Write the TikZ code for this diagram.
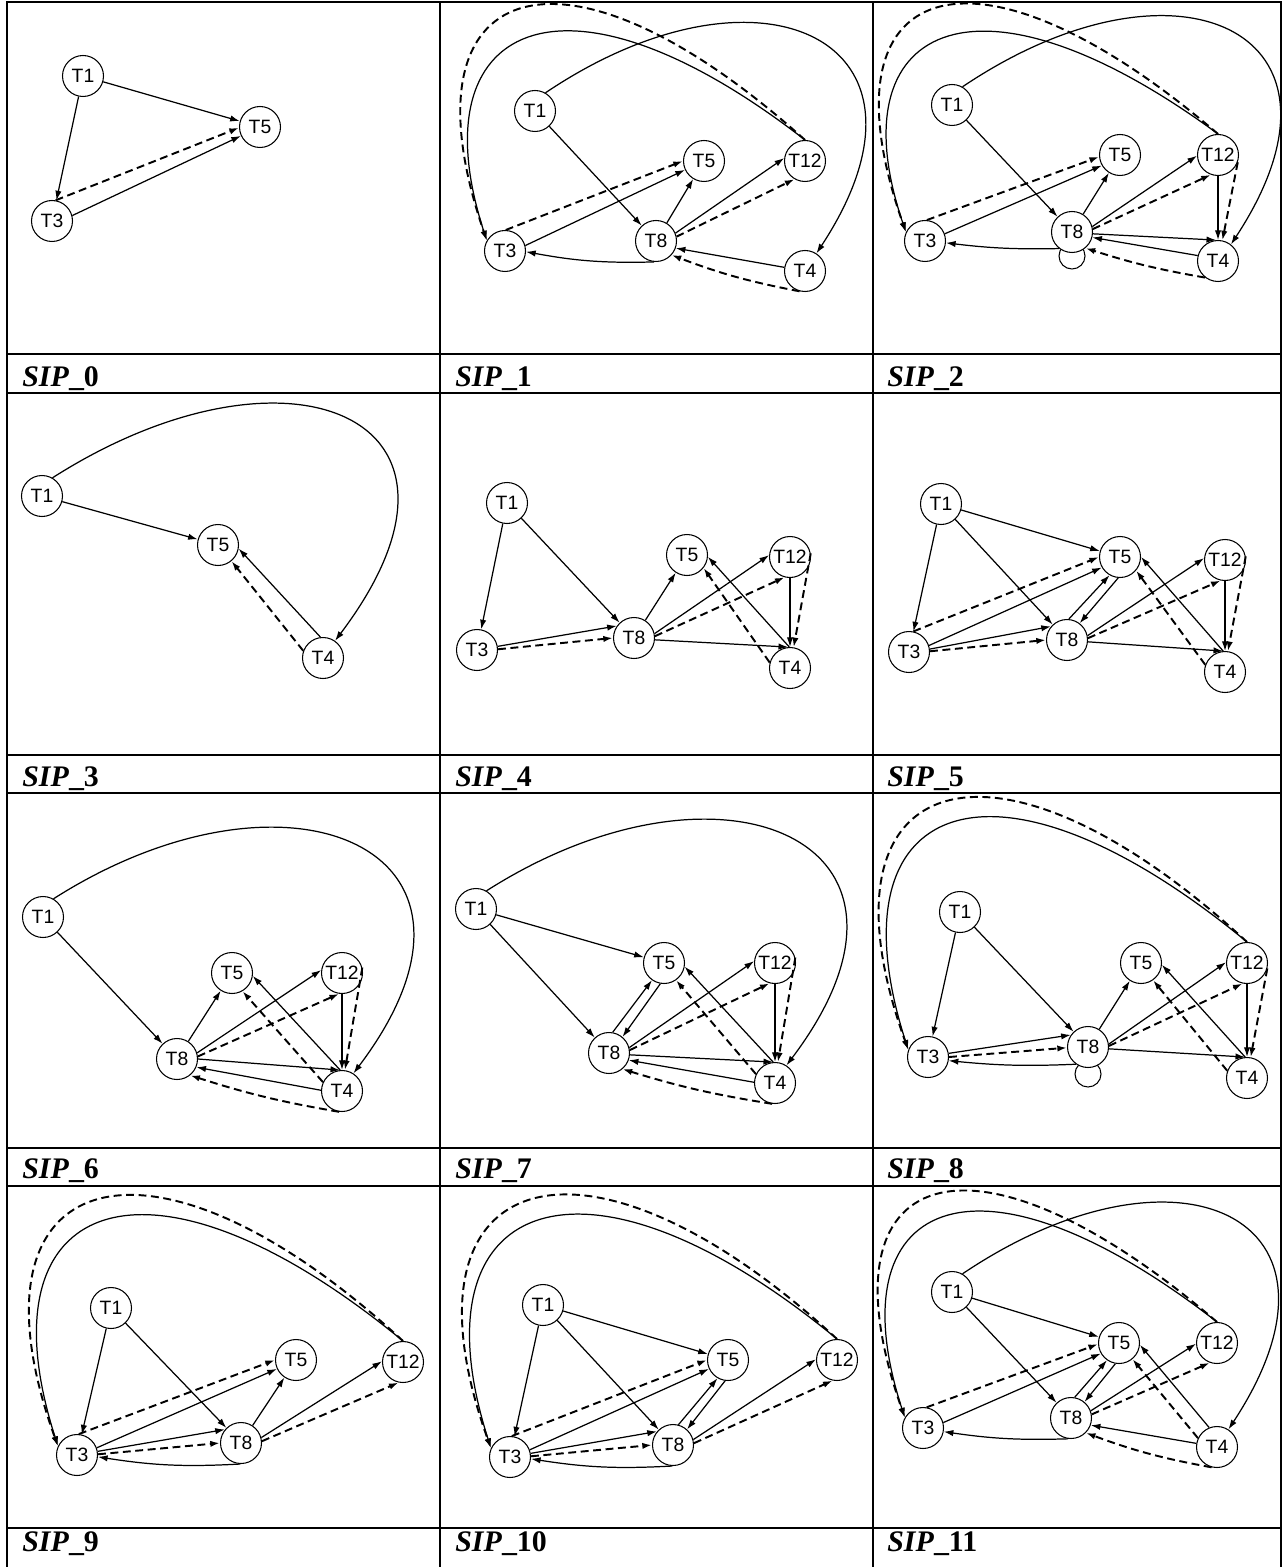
\documentclass[tikz,border=0pt]{standalone}
\usepackage{fontspec}
\setmainfont{Liberation Serif}
\setsansfont{Liberation Sans}
\usetikzlibrary{arrows.meta}

\tikzset{
  task/.style={circle, draw, line width=0.6pt, fill=white, minimum size=0.82cm, inner sep=0pt,
    font=\sffamily\fontsize{11}{12}\selectfont},
  selfloop/.style={circle, draw, line width=0.6pt, minimum size=0.52cm, inner sep=0pt},
  flow/.style={-{Latex[length=5.5pt,width=3.6pt]}, line width=0.7pt},
  dflow/.style={flow, line width=1.1pt, dash pattern=on 4.5pt off 2.6pt},
  siplabel/.style={anchor=base west, inner sep=0pt, font=\bfseries\fontsize{17}{20}\selectfont},
  tableline/.style={line width=1pt}
}

\begin{document}
\begin{tikzpicture}[x=0.02cm, y=-0.02cm]
  \useasboundingbox (0,0) rectangle (1284,1567);

  % table
  \draw[tableline] (7,1600) -- (7,2) -- (1281,2) -- (1281,1600);
  \foreach \xx in {440,873} \draw[tableline] (\xx,2) -- (\xx,1600);
  \foreach \yy in {354,393,755,793,1148,1186,1528} \draw[tableline] (7,\yy) -- (1281,\yy);

  \node[siplabel] (lab0) at (22,387) {\textit{SIP}\_0};
  \node[siplabel] (lab1) at (455,387) {\textit{SIP}\_1};
  \node[siplabel] (lab2) at (887,387) {\textit{SIP}\_2};
  \node[siplabel] (lab3) at (22,786) {\textit{SIP}\_3};
  \node[siplabel] (lab4) at (455,786) {\textit{SIP}\_4};
  \node[siplabel] (lab5) at (887,786) {\textit{SIP}\_5};
  \node[siplabel] (lab6) at (22,1178) {\textit{SIP}\_6};
  \node[siplabel] (lab7) at (455,1178) {\textit{SIP}\_7};
  \node[siplabel] (lab8) at (887,1178) {\textit{SIP}\_8};
  \node[siplabel] (lab9) at (22,1551) {\textit{SIP}\_9};
  \node[siplabel] (lab10) at (455,1551) {\textit{SIP}\_10};
  \node[siplabel] (lab11) at (887,1551) {\textit{SIP}\_11};

  % SIP_0
  \begin{scope}[name prefix=a-]
    \node[task] (T1) at (83,76) {T1};
    \node[task] (T5) at (260,127) {T5};
    \node[task] (T3) at (52,221) {T3};
    \draw[flow] (T1) -- (T5);
    \draw[flow] (T1) -- (T3);
    \draw[dflow] (T3.80) -- (T5.182);
    \draw[flow] (T3.15) -- (T5.205);
  \end{scope}

  % SIP_1
  \begin{scope}[name prefix=b-]
    \node[task] (T1) at (535,111) {T1};
    \node[task] (T5) at (704,161) {T5};
    \node[task] (T12) at (805,161) {T12};
    \node[task] (T8) at (656,241) {T8};
    \node[task] (T3) at (505,251) {T3};
    \node[task] (T4) at (805,271) {T4};
    \draw[flow] (T1) -- (T8);
    \draw[dflow] (T3.88) -- (T5.180);
    \draw[flow] (T3.15) -- (T5.205);
    \draw[flow] (T8) -- (T5);
    \draw[flow] (T8.22) -- (T12.172);
    \draw[dflow] (T8.12) -- (T12.240);
    \draw[flow] (T8.265) to[bend left=6] (T3.358);
    \draw[flow] (T4.170) -- (T8.340);
    \draw[dflow] (T4.255) to[bend left=5] (T8.318);
    \draw[flow] (T12.north) .. controls +(-245,-190) and +(-70,-215) .. (T3.150);
    \draw[dflow] (T12.north) .. controls +(-245,-220) and +(-90,-262) .. (T3.150);
    \draw[flow] (T1.60) .. controls +(215,-145) and +(140,-213) .. (T4.57);
  \end{scope}

  % SIP_2
  \begin{scope}[name prefix=c-]
    \node[selfloop] (L8) at (1072,256) {};
    \node[task] (T1) at (952,105) {T1};
    \node[task] (T5) at (1120,155) {T5};
    \node[task] (T12) at (1218,155) {T12};
    \node[task] (T8) at (1072,232) {T8};
    \node[task] (T3) at (925,241) {T3};
    \node[task] (T4) at (1218,261) {T4};
    \draw[flow] (T1) -- (T8);
    \draw[dflow] (T3.85) -- (T5.185);
    \draw[flow] (T3.20) -- (T5.210);
    \draw[flow] (T8) -- (T5);
    \draw[flow] (T8.15) -- (T12.182);
    \draw[dflow] (T8.8) -- (T12.250);
    \draw[flow] (T8.355) -- (T4.95);
    \draw[flow] (T12.south) -- (T4.north);
    \draw[dflow] (T12.340) -- (T4.78);
    \draw[flow] (T4.165) -- (T8.345);
    \draw[dflow] (T4.232) to[bend left=4] (T8.310);
    \draw[flow] (T8.232) to[bend left=4] (T3.355);
    \draw[flow] (T12.north) .. controls +(-245,-180) and +(-70,-205) .. (T3.155);
    \draw[dflow] (T12.north) .. controls +(-245,-210) and +(-90,-255) .. (T3.155);
    \draw[flow] (T1.60) .. controls +(215,-145) and +(140,-213) .. (T4.52);
  \end{scope}

  % SIP_3
  \begin{scope}[name prefix=d-]
    \node[task] (T1) at (42,496) {T1};
    \node[task] (T5) at (218,545) {T5};
    \node[task] (T4) at (323,658) {T4};
    \draw[flow] (T1) -- (T5);
    \draw[flow] (T4.97) -- (T5.350);
    \draw[dflow] (T4.160) -- (T5.310);
    \draw[flow] (T1.60) .. controls +(235,-150) and +(170,-225) .. (T4.55);
  \end{scope}

  % SIP_4
  \begin{scope}[name prefix=e-]
    \node[task] (T1) at (507,503) {T1};
    \node[task] (T5) at (687,555) {T5};
    \node[task] (T12) at (790,557) {T12};
    \node[task] (T8) at (634,638) {T8};
    \node[task] (T3) at (477,650) {T3};
    \node[task] (T4) at (790,668) {T4};
    \draw[flow] (T1) -- (T3);
    \draw[flow] (T1) -- (T8);
    \draw[flow] (T3.10) -- (T8.145);
    \draw[dflow] (T3.2) -- (T8.180);
    \draw[flow] (T8) -- (T5);
    \draw[flow] (T8.12) -- (T12.175);
    \draw[dflow] (T8.5) -- (T12.255);
    \draw[flow] (T8.355) -- (T4.95);
    \draw[flow] (T12.south) -- (T4.north);
    \draw[dflow] (T12.10) -- (T4.80);
    \draw[flow] (T4.92) -- (T5.355);
    \draw[dflow] (T4.165) -- (T5.322);
  \end{scope}

  % SIP_5
  \begin{scope}[name prefix=f-]
    \node[task] (T1) at (941,504) {T1};
    \node[task] (T5) at (1120,557) {T5};
    \node[task] (T12) at (1225,560) {T12};
    \node[task] (T8) at (1067,640) {T8};
    \node[task] (T3) at (909,652) {T3};
    \node[task] (T4) at (1225,672) {T4};
    \draw[flow] (T1) -- (T3);
    \draw[flow] (T1) -- (T8);
    \draw[flow] (T1) -- (T5);
    \draw[dflow] (T3.78) -- (T5.180);
    \draw[flow] (T3.18) -- (T5.210);
    \draw[flow] (T3.8) -- (T8.140);
    \draw[dflow] (T3.2) -- (T8.180);
    \draw[flow] (T8.85) -- (T5.240);
    \draw[flow] (T5.265) -- (T8.53);
    \draw[flow] (T8.12) -- (T12.175);
    \draw[dflow] (T8.5) -- (T12.258);
    \draw[flow] (T8.355) -- (T4.95);
    \draw[flow] (T12.south) -- (T4.north);
    \draw[dflow] (T12.10) -- (T4.82);
    \draw[flow] (T4.95) -- (T5.0);
    \draw[dflow] (T4.160) -- (T5.320);
  \end{scope}

  % SIP_6
  \begin{scope}[name prefix=g-]
    \node[task] (T1) at (43,917) {T1};
    \node[task] (T5) at (232,973) {T5};
    \node[task] (T12) at (342,973) {T12};
    \node[task] (T8) at (177,1059) {T8};
    \node[task] (T4) at (342,1091) {T4};
    \draw[flow] (T1) -- (T8);
    \draw[flow] (T8) -- (T5);
    \draw[flow] (T8.17) -- (T12.172);
    \draw[dflow] (T8.7) -- (T12.262);
    \draw[flow] (T8.0) -- (T4.95);
    \draw[flow] (T12.south) -- (T4.north);
    \draw[dflow] (T12.15) -- (T4.82);
    \draw[flow] (T4.95) -- (T5.352);
    \draw[dflow] (T4.155) -- (T5.300);
    \draw[flow] (T4.178) -- (T8.337);
    \draw[dflow] (T4.262) to[bend left=4] (T8.309);
    \draw[flow] (T1.60) .. controls +(235,-150) and +(170,-225) .. (T4.57);
  \end{scope}

  % SIP_7
  \begin{scope}[name prefix=h-]
    \node[task] (T1) at (476,909) {T1};
    \node[task] (T5) at (664,963) {T5};
    \node[task] (T12) at (775,963) {T12};
    \node[task] (T8) at (609,1053) {T8};
    \node[task] (T4) at (775,1083) {T4};
    \draw[flow] (T1) -- (T5);
    \draw[flow] (T1) -- (T8);
    \draw[flow] (T8.80) -- (T5.235);
    \draw[flow] (T5.260) -- (T8.50);
    \draw[flow] (T8.15) -- (T12.175);
    \draw[dflow] (T8.8) -- (T12.255);
    \draw[flow] (T8.355) -- (T4.95);
    \draw[flow] (T12.south) -- (T4.north);
    \draw[dflow] (T12.15) -- (T4.82);
    \draw[flow] (T4.95) -- (T5.350);
    \draw[dflow] (T4.155) -- (T5.305);
    \draw[flow] (T4.178) -- (T8.340);
    \draw[dflow] (T4.262) to[bend left=4] (T8.310);
    \draw[flow] (T1.60) .. controls +(235,-150) and +(170,-225) .. (T4.57);
  \end{scope}

  % SIP_8
  \begin{scope}[name prefix=i-]
    \node[selfloop] (L8) at (1088,1074) {};
    \node[task] (T1) at (960,912) {T1};
    \node[task] (T5) at (1141,963) {T5};
    \node[task] (T12) at (1247,963) {T12};
    \node[task] (T8) at (1088,1047) {T8};
    \node[task] (T3) at (928,1057) {T3};
    \node[task] (T4) at (1247,1078) {T4};
    \draw[flow] (T1) -- (T3);
    \draw[flow] (T1) -- (T8);
    \draw[flow] (T3.10) -- (T8.145);
    \draw[dflow] (T3.0) -- (T8.182);
    \draw[flow] (T8.235) to[bend left=4] (T3.350);
    \draw[flow] (T8) -- (T5);
    \draw[flow] (T8.8) -- (T12.178);
    \draw[dflow] (T8.3) -- (T12.258);
    \draw[flow] (T8.355) -- (T4.95);
    \draw[flow] (T12.south) -- (T4.north);
    \draw[dflow] (T12.345) -- (T4.80);
    \draw[flow] (T4.95) -- (T5.355);
    \draw[dflow] (T4.160) -- (T5.305);
    \draw[flow] (T12.north) .. controls +(-255,-210) and +(-80,-250) .. (T3.160);
    \draw[dflow] (T12.north) .. controls +(-255,-235) and +(-101,-280) .. (T3.160);
  \end{scope}

  % SIP_9
  \begin{scope}[name prefix=j-]
    \node[task] (T1) at (111,1308) {T1};
    \node[task] (T5) at (296,1360) {T5};
    \node[task] (T12) at (403,1362) {T12};
    \node[task] (T8) at (241,1443) {T8};
    \node[task] (T3) at (77,1455) {T3};
    \draw[flow] (T1) -- (T3);
    \draw[flow] (T1) -- (T8);
    \draw[dflow] (T3.85) -- (T5.180);
    \draw[flow] (T3.20) -- (T5.205);
    \draw[flow] (T3.10) -- (T8.140);
    \draw[dflow] (T3.2) -- (T8.180);
    \draw[flow] (T8.268) to[bend left=6] (T3.355);
    \draw[flow] (T8) -- (T5);
    \draw[flow] (T8.15) -- (T12.178);
    \draw[dflow] (T8.5) -- (T12.258);
    \draw[flow] (T12.north) .. controls +(-255,-210) and +(-80,-250) .. (T3.155);
    \draw[dflow] (T12.north) .. controls +(-255,-235) and +(-101,-280) .. (T3.155);
  \end{scope}

  % SIP_10
  \begin{scope}[name prefix=k-]
    \node[task] (T1) at (543,1305) {T1};
    \node[task] (T5) at (728,1360) {T5};
    \node[task] (T12) at (837,1360) {T12};
    \node[task] (T8) at (673,1445) {T8};
    \node[task] (T3) at (510,1457) {T3};
    \draw[flow] (T1) -- (T3);
    \draw[flow] (T1) -- (T8);
    \draw[flow] (T1) -- (T5);
    \draw[dflow] (T3.85) -- (T5.180);
    \draw[flow] (T3.20) -- (T5.205);
    \draw[flow] (T3.10) -- (T8.140);
    \draw[dflow] (T3.2) -- (T8.180);
    \draw[flow] (T8.268) to[bend left=6] (T3.355);
    \draw[flow] (T8.75) -- (T5.240);
    \draw[flow] (T5.262) -- (T8.48);
    \draw[flow] (T8.15) -- (T12.178);
    \draw[dflow] (T8.5) -- (T12.258);
    \draw[flow] (T12.north) .. controls +(-255,-210) and +(-80,-250) .. (T3.155);
    \draw[dflow] (T12.north) .. controls +(-255,-235) and +(-101,-280) .. (T3.155);
  \end{scope}

  % SIP_11
  \begin{scope}[name prefix=l-]
    \node[task] (T1) at (952,1292) {T1};
    \node[task] (T5) at (1119,1343) {T5};
    \node[task] (T12) at (1217,1343) {T12};
    \node[task] (T8) at (1071,1418) {T8};
    \node[task] (T3) at (923,1428) {T3};
    \node[task] (T4) at (1217,1447) {T4};
    \draw[flow] (T1) -- (T5);
    \draw[flow] (T1) -- (T8);
    \draw[dflow] (T3.80) -- (T5.183);
    \draw[flow] (T3.15) -- (T5.210);
    \draw[flow] (T8.80) -- (T5.235);
    \draw[flow] (T5.260) -- (T8.50);
    \draw[flow] (T8.20) -- (T12.182);
    \draw[dflow] (T8.10) -- (T12.250);
    \draw[flow] (T4.112) -- (T5.355);
    \draw[dflow] (T4.155) -- (T5.310);
    \draw[flow] (T4.170) -- (T8.340);
    \draw[dflow] (T4.255) to[bend left=5] (T8.315);
    \draw[flow] (T8.262) to[bend left=5] (T3.350);
    \draw[flow] (T12.north) .. controls +(-245,-190) and +(-70,-215) .. (T3.150);
    \draw[dflow] (T12.north) .. controls +(-245,-210) and +(-90,-255) .. (T3.150);
    \draw[flow] (T1.60) .. controls +(215,-145) and +(140,-213) .. (T4.57);
  \end{scope}
\end{tikzpicture}
\end{document}
